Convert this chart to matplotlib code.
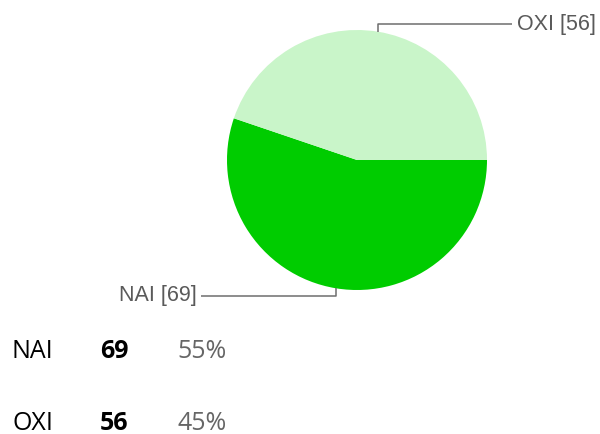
import numpy as np
import matplotlib.pyplot as plt

# answer counts
labels = ['NAI', 'OXI']
counts = [69, 56]
colors = ['#00cc00', '#c9f5c9']

W, H = 600, 434
fig = plt.figure(figsize=(W / 100, H / 100), dpi=100)
fig.patch.set_facecolor('white')


def fx(x):
    return x / W


def fy(y):
    return 1 - y / H


# pie: centre (357, 160), radius 130 px
cx, cy, r = 357, 160, 130
ax = fig.add_axes([fx(cx - r), fy(cy + r), 2 * r / W, 2 * r / H])
wedges, _ = ax.pie(counts, colors=colors, startangle=0, counterclock=False,
                   wedgeprops=dict(linewidth=0), radius=1)
ax.set_xlim(-1, 1)
ax.set_ylim(-1, 1)
ax.axis('off')

# leader lines with value labels
for w, lab, n in zip(wedges, labels, counts):
    ang = np.deg2rad((w.theta1 + w.theta2) / 2)
    x0, y0 = np.cos(ang), np.sin(ang)
    sy = np.sign(y0)
    y1 = sy * 1.045
    x2 = 1.19 if x0 > 0 else -1.2
    ax.plot([x0, x0, x2], [y0, y1, y1], color='#6e6e6e', lw=1.1,
            clip_on=False, solid_capstyle='butt')
    ax.text(x2 + (0.04 if x0 > 0 else -0.03), y1, f'{lab} [{n}]',
            ha='left' if x0 > 0 else 'right', va='center',
            fontsize=15.5, color='#5a5a5a', family='Liberation Sans')

# summary table below the pie
total = sum(counts)
rows_y = [352, 423]
for yy, lab, n in zip(rows_y, labels, counts):
    fig.text(fx(12), fy(yy), lab, fontsize=18, family='Open Sans',
             color='black', va='center', ha='left')
    fig.text(fx(100), fy(yy), str(n), fontsize=18, family='Open Sans',
             weight='bold', color='black', va='center', ha='left')
    fig.text(fx(177), fy(yy), f'{round(100 * n / total)}%', fontsize=18,
             family='Open Sans', color='#666666', va='center', ha='left')

fig.savefig('out.png', dpi=100, facecolor='white')
